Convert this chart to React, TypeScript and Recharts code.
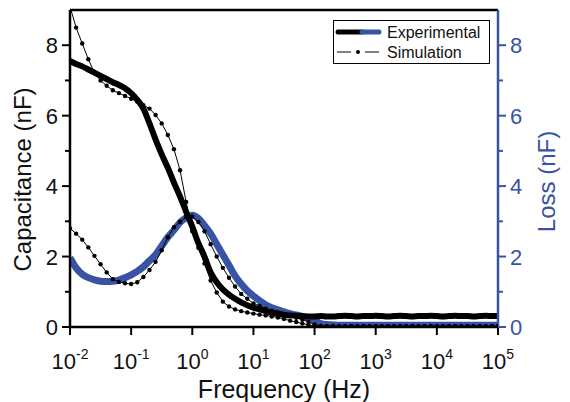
import React from 'react';
import { LineChart, Line, XAxis, YAxis, Legend, ReferenceLine } from 'recharts';

// frequency grid: 10 points per decade, 10^-2 .. 10^5 Hz
const logF = Array.from({ length: 71 }, (_, i) => -2 + i / 10);
const freqTicks = [0.01, 0.1, 1, 10, 100, 1000, 10000, 100000];
const yTicks = [0, 1, 2, 3, 4, 5, 6, 7, 8];

// values in nF
const expCap = [
  7.55, 7.47, 7.4, 7.31, 7.22, 7.13, 7.04, 6.95, 6.87, 6.78,
  6.64, 6.45, 6.2, 5.78, 5.32, 4.9, 4.52, 4.1, 3.7, 3.27,
  2.85, 2.38, 2.0, 1.55, 1.27, 1.07, 0.92, 0.8, 0.7, 0.62,
  0.55, 0.5, 0.45, 0.41, 0.38, 0.35, 0.33, 0.32, 0.31, 0.3,
  0.3, 0.31, 0.3, 0.3, 0.31, 0.32, 0.31, 0.3, 0.31, 0.31,
  0.32, 0.31, 0.3, 0.31, 0.32, 0.31, 0.3, 0.31, 0.31, 0.32,
  0.31, 0.3, 0.31, 0.32, 0.31, 0.31, 0.3, 0.31, 0.32, 0.31,
  0.31,
];
const expLoss = [
  1.97, 1.68, 1.5, 1.4, 1.34, 1.3, 1.29, 1.3, 1.33, 1.4,
  1.48, 1.58, 1.71, 1.88, 2.05, 2.3, 2.55, 2.75, 2.97, 3.1,
  3.17, 3.08, 2.88, 2.65, 2.35, 2.05, 1.75, 1.45, 1.22, 1.03,
  0.88, 0.75, 0.63, 0.55, 0.49, 0.43, 0.38, 0.34, 0.3, 0.26,
  0.18, 0.1, 0.07, 0.06, 0.05, 0.05, 0.05, 0.05, 0.05, 0.05,
  0.05, 0.05, 0.05, 0.05, 0.05, 0.05, 0.05, 0.05, 0.05, 0.05,
  0.05, 0.05, 0.05, 0.05, 0.05, 0.05, 0.05, 0.05, 0.05, 0.05,
  0.05,
];
const simCap = [
  9.1, 8.5, 8.05, 7.6, 7.22, 7.0, 6.85, 6.72, 6.64, 6.56,
  6.48, 6.4, 6.3, 6.2, 6.02, 5.78, 5.45, 5.05, 4.45, 3.55,
  2.72, 2.25, 1.8, 1.32, 0.98, 0.72, 0.58, 0.5, 0.45, 0.41,
  0.38, 0.35, 0.33, 0.3, 0.27, 0.23, 0.18, 0.14, 0.1, 0.06,
  0.03, 0.02, 0.02, 0.02, 0.02, 0.02, 0.02, 0.02, 0.02, 0.02,
  0.02, 0.02, 0.02, 0.02, 0.02, 0.02, 0.02, 0.02, 0.02, 0.02,
  0.02, 0.02, 0.02, 0.02, 0.02, 0.02, 0.02, 0.02, 0.02, 0.02,
  0.02,
];
const simLoss = [
  2.8, 2.65, 2.48, 2.26, 2.02, 1.78, 1.55, 1.36, 1.28, 1.24,
  1.22, 1.27, 1.42, 1.62, 1.85, 2.18, 2.55, 2.83, 2.99, 3.12,
  3.14, 2.98, 2.72, 2.35, 2.0, 1.68, 1.4, 1.15, 0.94, 0.8,
  0.67, 0.6, 0.52, 0.46, 0.41, 0.36, 0.31, 0.26, 0.21, 0.14,
  0.07, 0.03, 0.02, 0.02, 0.02, 0.02, 0.02, 0.02, 0.02, 0.02,
  0.02, 0.02, 0.02, 0.02, 0.02, 0.02, 0.02, 0.02, 0.02, 0.02,
  0.02, 0.02, 0.02, 0.02, 0.02, 0.02, 0.02, 0.02, 0.02, 0.02,
  0.02,
];

const data = logF.map((lf, i) => ({
  f: Math.pow(10, lf),
  expCap: expCap[i],
  expLoss: expLoss[i],
  simCap: simCap[i],
  simLoss: simLoss[i],
}));

const FONT = '"Liberation Sans", Arial, sans-serif';
const BLUE = '#3953A4';

const XTick = ({ x, y, payload }: any) => {
  const exp = Math.round(Math.log10(payload.value));
  return (
    <g>
      <line x1={x} y1={y} x2={x} y2={y + 8} stroke="#000" strokeWidth={2} />
      <text x={x} y={y + 42} textAnchor="middle" fontSize={22} fontFamily={FONT} fill="#111">
        <tspan>10</tspan>
        <tspan dy={-10} fontSize={14}>{exp}</tspan>
      </text>
    </g>
  );
};

const LeftTick = ({ x, y, payload }: any) => {
  const major = payload.value % 2 === 0;
  return (
    <g>
      <line x1={x - (major ? 8 : 5)} y1={y} x2={x} y2={y} stroke="#000" strokeWidth={2} />
      {major && (
        <text x={x - 12} y={y + 8} textAnchor="end" fontSize={22} fontFamily={FONT} fill="#111">
          {payload.value}
        </text>
      )}
    </g>
  );
};

const RightTick = ({ x, y, payload }: any) => {
  const major = payload.value % 2 === 0;
  return (
    <g>
      <line x1={x} y1={y} x2={x + (major ? 8 : 5)} y2={y} stroke={BLUE} strokeWidth={2} />
      {major && (
        <text x={x + 12} y={y + 8} textAnchor="start" fontSize={22} fontFamily={FONT} fill={BLUE}>
          {payload.value}
        </text>
      )}
    </g>
  );
};

const CapLabel = ({ viewBox }: any) => {
  const cx = viewBox.x + 31;
  const cy = viewBox.y + viewBox.height / 2 + 11;
  return (
    <text x={cx} y={cy} transform={`rotate(-90, ${cx}, ${cy})`} textAnchor="middle" fontSize={24} fontFamily={FONT} fill="#111">
      Capacitance (nF)
    </text>
  );
};

const LossLabel = ({ viewBox }: any) => {
  const cx = viewBox.x + 57;
  const cy = viewBox.y + viewBox.height / 2 + 13;
  return (
    <text x={cx} y={cy} transform={`rotate(-90, ${cx}, ${cy})`} textAnchor="middle" fontSize={24} fontFamily={FONT} fill={BLUE}>
      Loss (nF)
    </text>
  );
};

const FreqLabel = ({ viewBox }: any) => (
  <text x={viewBox.x + viewBox.width / 2} y={viewBox.y + 71} textAnchor="middle" fontSize={25} fontFamily={FONT} fill="#111">
    Frequency (Hz)
  </text>
);

const LegendBox = () => (
  <svg width={157} height={44} style={{ display: 'block' }}>
    <rect x={0.5} y={0.5} width={156} height={43} fill="#fff" stroke="#000" strokeWidth={1} />
    <line x1={5} y1={12} x2={29} y2={12} stroke="#000" strokeWidth={5} strokeLinecap="round" />
    <line x1={29} y1={12} x2={46} y2={12} stroke={BLUE} strokeWidth={5} strokeLinecap="round" />
    <text x={54} y={18} fontSize={16} fontFamily={FONT} fill="#111">Experimental</text>
    <line x1={4} y1={32} x2={18} y2={32} stroke="#000" strokeWidth={1} />
    <circle cx={25} cy={32} r={2} fill="#000" />
    <line x1={32} y1={32} x2={46} y2={32} stroke="#000" strokeWidth={1} />
    <text x={54} y={38} fontSize={16} fontFamily={FONT} fill="#111">Simulation</text>
  </svg>
);

export default function App() {
  return (
    <div style={{ position: 'absolute', left: 0, top: 0, background: '#fff' }}>
      <LineChart width={570} height={402} data={data} margin={{ top: 10, right: 0, bottom: 0, left: 0 }}>
        <XAxis
          dataKey="f"
          type="number"
          scale="log"
          domain={[0.01, 100000]}
          ticks={freqTicks}
          allowDataOverflow
          height={75}
          tickSize={0}
          tickMargin={0}
          tick={<XTick />}
          axisLine={{ stroke: '#000', strokeWidth: 2.5 }}
          tickLine={false}
          label={<FreqLabel />}
        />
        <YAxis
          yAxisId="left"
          domain={[0, 9]}
          ticks={yTicks}
          allowDataOverflow
          width={70}
          tickSize={0}
          tickMargin={0}
          tick={<LeftTick />}
          axisLine={{ stroke: '#000', strokeWidth: 2.5 }}
          tickLine={false}
          interval={0}
          label={<CapLabel />}
        />
        <YAxis
          yAxisId="right"
          orientation="right"
          domain={[0, 9]}
          ticks={yTicks}
          allowDataOverflow
          width={72}
          tickSize={0}
          tickMargin={0}
          tick={<RightTick />}
          axisLine={{ stroke: BLUE, strokeWidth: 2.5 }}
          tickLine={false}
          interval={0}
          label={<LossLabel />}
        />
        <ReferenceLine yAxisId="left" y={9} stroke="#000" strokeWidth={2.5} />
        <Legend
          layout="horizontal"
          align="center"
          verticalAlign="middle"
          content={<LegendBox />}
          wrapperStyle={{ position: 'absolute', left: 333, top: 20, width: 157, height: 44 }}
        />
        <Line yAxisId="right" type="monotone" dataKey="expLoss" stroke={BLUE} strokeWidth={7} dot={false} isAnimationActive={false} />
        <Line yAxisId="left" type="monotone" dataKey="expCap" stroke="#000" strokeWidth={6} dot={false} isAnimationActive={false} />
        <Line
          yAxisId="right"
          type="linear"
          dataKey="simLoss"
          stroke="#000"
          strokeWidth={1}
          dot={{ r: 2.2, fill: '#000', stroke: 'none' }}
          isAnimationActive={false}
        />
        <Line
          yAxisId="left"
          type="linear"
          dataKey="simCap"
          stroke="#000"
          strokeWidth={1}
          dot={{ r: 2.2, fill: '#000', stroke: 'none' }}
          isAnimationActive={false}
        />
      </LineChart>
    </div>
  );
}
